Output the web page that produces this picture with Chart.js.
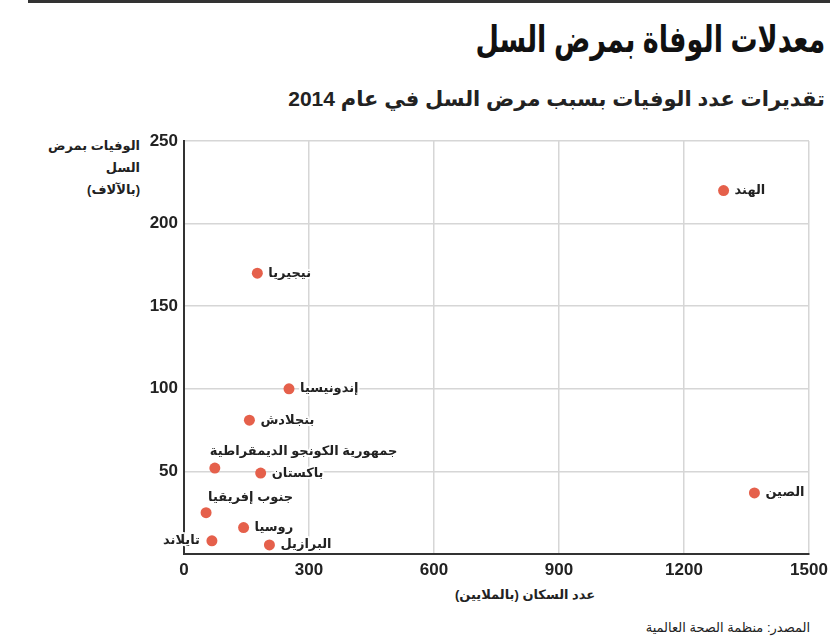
<!DOCTYPE html>
<html lang="ar">
<head>
    <meta charset="UTF-8">
    <title>معدلات الوفاة بمرض السل</title>
    <style>
        * {
            margin: 0;
            padding: 0;
            box-sizing: border-box;
        }
        body {
            width: 830px;
            height: 643px;
            background: #fff;
            font-family: 'Liberation Sans', 'DejaVu Sans', sans-serif;
            color: #222;
            position: relative;
            overflow: hidden;
        }
        .rule {
            position: absolute;
            left: 28px;
            right: 0;
            top: 0;
            height: 3px;
            background: #333;
        }
        .txt {
            position: absolute;
            direction: rtl;
            white-space: nowrap;
        }
        .title {
            right: 5px;
            top: 18px;
            font-size: 37px;
            font-weight: bold;
            color: #111;
            transform: scaleX(0.73);
            transform-origin: right center;
        }
        .subtitle {
            right: 5px;
            top: 87px;
            font-size: 21px;
            font-weight: bold;
        }
        .ytitle {
            right: 690px;
            top: 135px;
            font-size: 13px;
            font-weight: bold;
            line-height: 22px;
            text-align: right;
        }
        .xtitle {
            left: 455px;
            top: 587px;
            font-size: 13px;
            font-weight: bold;
        }
        .source {
            right: 20px;
            top: 620px;
            font-size: 13px;
        }
        canvas {
            position: absolute;
            left: 0;
            top: 0;
        }
    </style>
</head>
<body>
    <div class="rule"></div>
    <div class="txt title">معدلات الوفاة بمرض السل</div>
    <div class="txt subtitle">تقديرات عدد الوفيات بسبب مرض السل في عام 2014</div>
    <div class="txt ytitle">الوفيات بمرض<br>السل<br>(بالآلاف)</div>
    <div class="txt xtitle">عدد السكان (بالملايين)</div>
    <div class="txt source">المصدر: منظمة الصحة العالمية</div>
    <canvas id="chart" width="830" height="643"></canvas>

    <script src="https://cdn.jsdelivr.net/npm/chart.js"></script>
    <script>
        // البيانات
        const countries = ['الهند', 'الصين', 'نيجيريا', 'إندونيسيا', 'بنجلادش', 'جمهورية الكونجو الديمقراطية', 'باكستان', 'جنوب إفريقيا', 'روسيا', 'تايلاند', 'البرازيل'];
        const population = [1295, 1369, 176, 252, 157, 74, 184, 53, 143, 67, 205];
        const deaths = [220, 37, 170, 100, 81, 52, 49, 25, 16, 8, 5.5];
        const xTicks = [0, 300, 600, 900, 1200, 1500];
        const yTicks = [0, 50, 100, 150, 200, 250];

        // مكان كل تسمية بالنسبة للنقطة
        const labelPos = {
            'تايلاند': { dx: -12, dy: 0, align: 'right' },
            'جمهورية الكونجو الديمقراطية': { dx: -5, dy: -17, align: 'left' },
            'جنوب إفريقيا': { dx: 2, dy: -15, align: 'left' }
        };

        const pointLabels = {
            id: 'pointLabels',
            afterDatasetsDraw(chart) {
                const ctx = chart.ctx;
                const meta = chart.getDatasetMeta(0);
                ctx.save();
                ctx.font = 'bold 13px "Liberation Sans", "DejaVu Sans", sans-serif';
                ctx.textBaseline = 'middle';
                ctx.direction = 'rtl';
                meta.data.forEach((pt, i) => {
                    const p = labelPos[countries[i]] || { dx: 11, dy: 0, align: 'left' };
                    ctx.textAlign = p.align;
                    const x = pt.x + p.dx, y = pt.y + p.dy;
                    ctx.strokeStyle = 'rgba(255,255,255,0.9)';
                    ctx.lineWidth = 4;
                    ctx.lineJoin = 'round';
                    ctx.strokeText(countries[i], x, y);
                    ctx.fillStyle = '#222';
                    ctx.fillText(countries[i], x, y);
                });
                ctx.restore();
            }
        };

        const tickFont = { family: '"Liberation Sans", sans-serif', size: 17, weight: 'bold' };

        new Chart(document.getElementById('chart'), {
            type: 'scatter',
            data: {
                datasets: [{
                    data: population.map((v, i) => ({ x: v, y: deaths[i] })),
                    backgroundColor: '#e5604b',
                    borderWidth: 0,
                    pointRadius: 5.5,
                    pointHoverRadius: 5.5
                }]
            },
            options: {
                responsive: false,
                animation: false,
                layout: { padding: { left: 0, top: 141, right: 21, bottom: 0 } },
                plugins: {
                    legend: { display: false },
                    tooltip: { enabled: false }
                },
                scales: {
                    x: {
                        type: 'linear',
                        min: 0,
                        max: 1500,
                        afterBuildTicks: s => { s.ticks = xTicks.map(v => ({ value: v })); },
                        afterFit: s => { s.height = 89; s.paddingRight = 0; s.paddingLeft = 0; },
                        ticks: { font: tickFont, color: '#222', padding: 6, callback: v => String(v) },
                        grid: { color: '#d6d6d6', lineWidth: 1.5, drawTicks: false },
                        border: { color: '#333', width: 2 }
                    },
                    y: {
                        type: 'linear',
                        min: 0,
                        max: 250,
                        afterBuildTicks: s => { s.ticks = yTicks.map(v => ({ value: v })); },
                        afterFit: s => { s.width = 184; s.paddingTop = 0; s.paddingBottom = 0; },
                        ticks: { font: tickFont, color: '#222', padding: 6, callback: v => (v === 0 ? '' : String(v)) },
                        grid: { color: '#d6d6d6', lineWidth: 1.5, drawTicks: false },
                        border: { color: '#333', width: 2 }
                    }
                }
            },
            plugins: [pointLabels]
        });
    </script>
</body>
</html>
